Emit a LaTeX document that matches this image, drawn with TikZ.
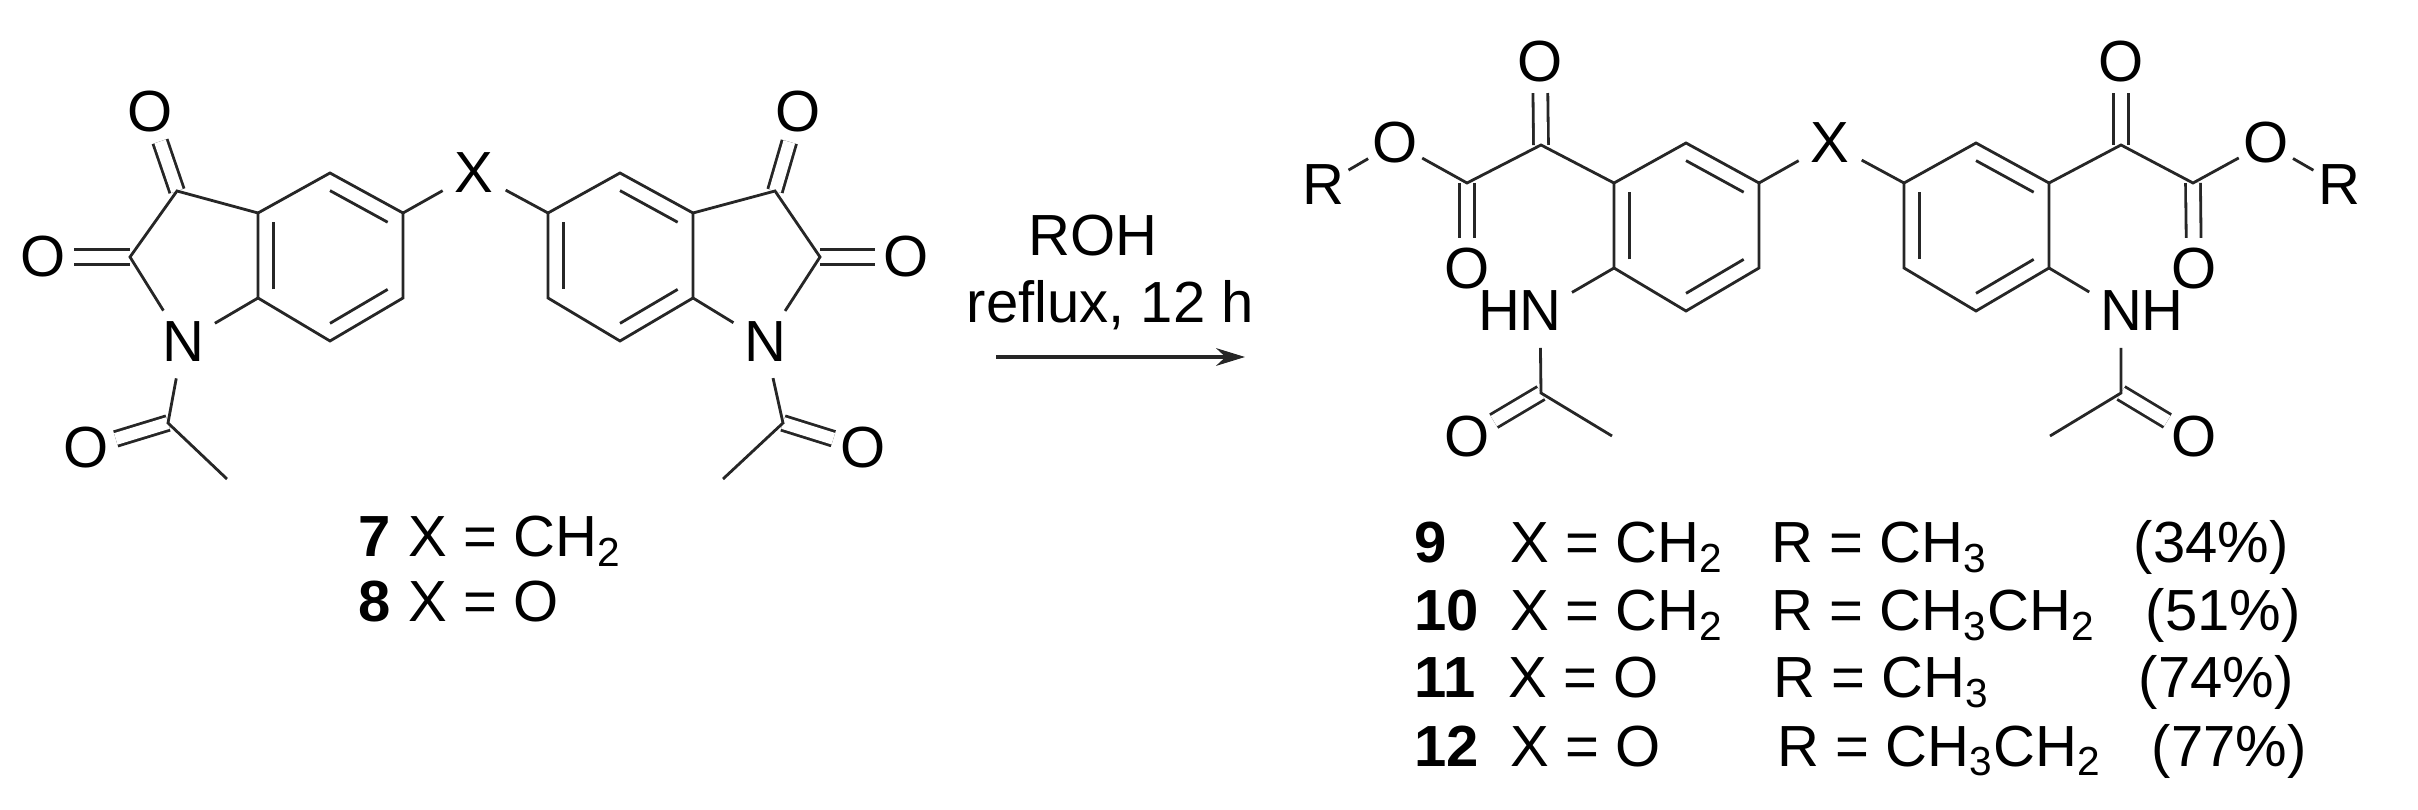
\documentclass[tikz,border=0pt]{standalone}
\usepackage{fontspec}
\setmainfont{Liberation Sans}
\usetikzlibrary{arrows.meta,calc,positioning}

\tikzset{
  atom/.style={circle, inner sep=0pt},
  hetero/.style={circle, inner sep=1.5pt},
  lbl/.style={anchor=base west, inner sep=0pt},
  bond/.style={line width=0.8pt, black!85},
  dbl/.style={line width=0.8pt, black!85, double, double distance=1.2mm},
}

\begin{document}
\begin{tikzpicture}[>=Stealth, x=0.01cm, y=-0.01cm,
    every node/.style={font=\fontsize{16.5}{20}\selectfont}]
  \useasboundingbox (0,0) rectangle (2418,810);

  % Left isatin
  \coordinate (la1) at (258,213); \coordinate (la2) at (330,173);
  \coordinate (la3) at (403,213); \coordinate (la4) at (403,298);
  \coordinate (la5) at (330,341); \coordinate (la6) at (258,298);
  \coordinate (lac) at (330,257);
  \coordinate (lc3) at (177,191); \coordinate (lc2) at (130,257);
  \coordinate (lcac) at (168,423); \coordinate (lme) at (227,479);
  \node[atom] (lo3) at (150,112) {O};
  \node[atom] (lo2) at (43,257) {O};
  \node[atom] (loac) at (86,448) {O};
  \node[hetero] (ln) at (183,342) {N};
  \node[hetero] (xl) at (474,173) {X};

  \draw[dbl] (lc3) -- (lo3);
  \draw[dbl] (lc2) -- (lo2);
  \draw[dbl] (lcac) -- (loac);
  \draw[bond] (la1) -- (la2) -- (la3) -- (la4) -- (la5) -- (la6) -- cycle;
  \draw[bond] ($(lac)!.79!(la2)$) -- ($(lac)!.79!(la3)$);
  \draw[bond] ($(lac)!.79!(la4)$) -- ($(lac)!.79!(la5)$);
  \draw[bond] ($(lac)!.79!(la6)$) -- ($(lac)!.79!(la1)$);
  \draw[bond] (la1) -- (lc3) -- (lc2) -- (ln);
  \draw[bond] (la6) -- (ln);
  \draw[bond] (ln) -- (lcac) -- (lme);
  \draw[bond] (la3) -- (xl);

  % Right isatin
  \coordinate (ra1) at (693,213); \coordinate (ra2) at (620,173);
  \coordinate (ra3) at (548,213); \coordinate (ra4) at (548,298);
  \coordinate (ra5) at (620,341); \coordinate (ra6) at (693,298);
  \coordinate (rac) at (620,257);
  \coordinate (rc3) at (775,191); \coordinate (rc2) at (820,257);
  \coordinate (rcac) at (783,423); \coordinate (rme) at (723,479);
  \node[atom] (ro3) at (798,112) {O};
  \node[atom] (ro2) at (906,257) {O};
  \node[atom] (roac) at (863,448) {O};
  \node[hetero] (rn) at (765,342) {N};

  \draw[dbl] (rc3) -- (ro3);
  \draw[dbl] (rc2) -- (ro2);
  \draw[dbl] (rcac) -- (roac);
  \draw[bond] (ra1) -- (ra2) -- (ra3) -- (ra4) -- (ra5) -- (ra6) -- cycle;
  \draw[bond] ($(rac)!.79!(ra2)$) -- ($(rac)!.79!(ra1)$);
  \draw[bond] ($(rac)!.79!(ra3)$) -- ($(rac)!.79!(ra4)$);
  \draw[bond] ($(rac)!.79!(ra5)$) -- ($(rac)!.79!(ra6)$);
  \draw[bond] (ra1) -- (rc3) -- (rc2) -- (rn);
  \draw[bond] (ra6) -- (rn);
  \draw[bond] (rn) -- (rcac) -- (rme);
  \draw[bond] (ra3) -- (xl);

  % Labels 7 and 8
  \node[lbl] (lbl7) at (358,557) {\textbf{7}};
  \node[lbl] (lblx7) at (408,557) {X = CH\textsubscript{2}};
  \node[lbl] (lbl8) at (358,622) {\textbf{8}};
  \node[lbl] (lblx8) at (408,622) {X = O};

  % Arrow
  \node[lbl] (roh) at (1028,256) {ROH};
  \node[lbl] (cond) at (966,323) {reflux, 12 h};
  \coordinate (arrs) at (996,357);
  \coordinate (arre) at (1245,357);
  \draw[-{Stealth[length=8.2pt,width=5pt]}, line width=1pt, black!85] (arrs) -- (arre);

  % Product, left half
  \coordinate (pa1) at (1614,183); \coordinate (pa2) at (1686,143);
  \coordinate (pa3) at (1759,183); \coordinate (pa4) at (1759,268);
  \coordinate (pa5) at (1686,311); \coordinate (pa6) at (1614,268);
  \coordinate (pac) at (1686,227);
  \coordinate (pk) at (1541,145); \coordinate (pe) at (1467,183);
  \coordinate (pcac) at (1541,393); \coordinate (pme) at (1612,436);
  \node[atom] (pok) at (1540,62) {O};
  \node[atom] (poe) at (1467,269) {O};
  \node[atom] (pos) at (1395,143) {O};
  \node[atom] (pr) at (1323,185) {R};
  \node[hetero] (pn) at (1540,311) {N};
  \node[atom] (ph) at (1499,311) {H};
  \node[atom] (poac) at (1467,437) {O};
  \node[hetero] (xp) at (1830,143) {X};

  \draw[dbl] (pk) -- (pok);
  \draw[dbl] (pe) -- (poe);
  \draw[dbl] (pcac) -- (poac);
  \draw[bond] (pa1) -- (pa2) -- (pa3) -- (pa4) -- (pa5) -- (pa6) -- cycle;
  \draw[bond] ($(pac)!.79!(pa2)$) -- ($(pac)!.79!(pa3)$);
  \draw[bond] ($(pac)!.79!(pa4)$) -- ($(pac)!.79!(pa5)$);
  \draw[bond] ($(pac)!.79!(pa6)$) -- ($(pac)!.79!(pa1)$);
  \draw[bond] (pa1) -- (pk) -- (pe) -- (pos);
  \draw[bond] (pos) -- (pr);
  \draw[bond] (pa6) -- (pn);
  \draw[bond] (pn) -- (pcac) -- (pme);
  \draw[bond] (pa3) -- (xp);

  % Product, right half
  \coordinate (qa1) at (2049,183); \coordinate (qa2) at (1976,143);
  \coordinate (qa3) at (1904,183); \coordinate (qa4) at (1904,268);
  \coordinate (qa5) at (1976,311); \coordinate (qa6) at (2049,268);
  \coordinate (qac) at (1976,227);
  \coordinate (qk) at (2121,145); \coordinate (qe) at (2193,183);
  \coordinate (qcac) at (2121,393); \coordinate (qme) at (2050,436);
  \node[atom] (qok) at (2121,62) {O};
  \node[atom] (qoe) at (2194,269) {O};
  \node[atom] (qos) at (2266,143) {O};
  \node[atom] (qr) at (2339,185) {R};
  \node[hetero] (qn) at (2121,311) {N};
  \node[atom] (qh) at (2162,311) {H};
  \node[atom] (qoac) at (2194,437) {O};

  \draw[dbl] (qk) -- (qok);
  \draw[dbl] (qe) -- (qoe);
  \draw[dbl] (qcac) -- (qoac);
  \draw[bond] (qa1) -- (qa2) -- (qa3) -- (qa4) -- (qa5) -- (qa6) -- cycle;
  \draw[bond] ($(qac)!.79!(qa2)$) -- ($(qac)!.79!(qa1)$);
  \draw[bond] ($(qac)!.79!(qa3)$) -- ($(qac)!.79!(qa4)$);
  \draw[bond] ($(qac)!.79!(qa5)$) -- ($(qac)!.79!(qa6)$);
  \draw[bond] (qa1) -- (qk) -- (qe) -- (qos);
  \draw[bond] (qos) -- (qr);
  \draw[bond] (qa6) -- (qn);
  \draw[bond] (qn) -- (qcac) -- (qme);
  \draw[bond] (qa3) -- (xp);

  % Table of products
  \node[lbl] (id9) at (1414,563) {\textbf{9}};
  \node[lbl] (x9) at (1510,563) {X = CH\textsubscript{2}};
  \node[lbl] (r9) at (1771,563) {R = CH\textsubscript{3}};
  \node[lbl] (y9) at (2133,563) {(34\%)};

  \node[lbl] (id10) at (1414,631) {\textbf{10}};
  \node[lbl] (x10) at (1510,631) {X = CH\textsubscript{2}};
  \node[lbl] (r10) at (1771,631) {R = CH\textsubscript{3}CH\textsubscript{2}};
  \node[lbl] (y10) at (2145,631) {(51\%)};

  \node[lbl] (id11) at (1414,698) {\textbf{11}};
  \node[lbl] (x11) at (1508,698) {X = O};
  \node[lbl] (r11) at (1773,698) {R = CH\textsubscript{3}};
  \node[lbl] (y11) at (2138,698) {(74\%)};

  \node[lbl] (id12) at (1414,766) {\textbf{12}};
  \node[lbl] (x12) at (1510,766) {X = O};
  \node[lbl] (r12) at (1777,766) {R = CH\textsubscript{3}CH\textsubscript{2}};
  \node[lbl] (y12) at (2151,766) {(77\%)};
\end{tikzpicture}
\end{document}
